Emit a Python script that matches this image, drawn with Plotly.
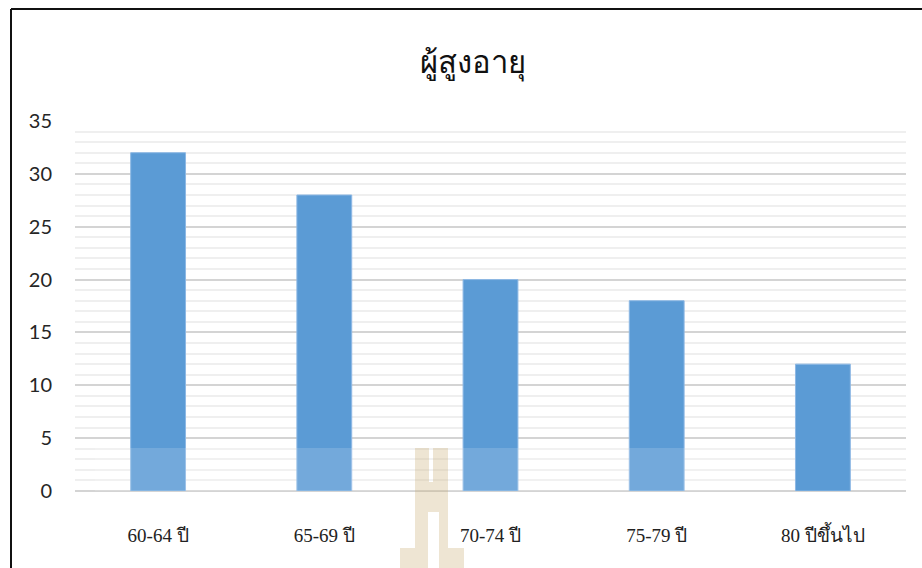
import plotly.graph_objects as go

# Elderly population by age group
categories = ["60-64 ปี", "65-69 ปี", "70-74 ปี", "75-79 ปี", "80 ปีขึ้นไป"]
counts = [32, 28, 20, 18, 12]
y_ticks = [0, 5, 10, 15, 20, 25, 30, 35]

W, H = 922, 568
L, R, T, B = 75, 16, 121, 77
PW, PH = W - L - R, H - T - B


def px(x):
    return (x - L) / PW


def py(y):
    return (H - B - y) / PH


fig = go.Figure()
fig.add_trace(go.Bar(
    x=categories,
    y=counts,
    width=0.33,
    marker=dict(color="#5B9BD5", line=dict(color="#8DB8E4", width=1)),
    hoverinfo="x+y",
))

shapes = []
# chart frame (top and left edges visible)
shapes.append(dict(type="line", xref="paper", yref="paper",
                   x0=px(11), x1=px(W + 20), y0=py(9), y1=py(9),
                   line=dict(color="#111111", width=2), layer="above"))
shapes.append(dict(type="line", xref="paper", yref="paper",
                   x0=px(11), x1=px(11), y0=py(9), y1=py(H + 20),
                   line=dict(color="#111111", width=2), layer="above"))

# pale watermark band across the lower part of the plot
shapes.append(dict(type="rect", xref="paper", yref="paper",
                   x0=px(95), x1=px(740), y0=py(448), y1=py(491),
                   fillcolor="rgba(255,255,255,0.15)", line=dict(width=0),
                   layer="above"))

# watermark emblem
pts = [
    (415, 448), (429, 448), (429, 482), (433, 482), (433, 448), (448, 448),
    (448, 548), (464, 548), (464, 570), (439, 570), (439, 512),
    (428, 512), (428, 570), (400, 570), (400, 548), (415, 548),
]
path = "M " + " L ".join(f"{px(x):.5f},{py(y):.5f}" for x, y in pts) + " Z"
shapes.append(dict(type="path", xref="paper", yref="paper", path=path,
                   fillcolor="rgba(200,168,110,0.30)", line=dict(width=0),
                   layer="above"))

fig.update_layout(
    width=W, height=H,
    margin=dict(l=L, r=R, t=T, b=B),
    paper_bgcolor="white",
    plot_bgcolor="white",
    showlegend=False,
    bargap=0.67,
    shapes=shapes,
    title=dict(
        text="ผู้สูงอายุ",
        x=px(473), xref="paper", xanchor="center",
        y=1 - 62 / H, yref="container", yanchor="middle",
        font=dict(family="Noto Sans, DejaVu Sans, sans-serif", size=31, color="#111111"),
    ),
    xaxis=dict(
        showgrid=False,
        showline=False,
        zeroline=False,
        ticks="",
        tickfont=dict(family="Liberation Serif, Noto Serif, serif", size=19, color="#222222"),
        ticklabelstandoff=31,
    ),
    yaxis=dict(
        range=[0, 35],
        tickvals=y_ticks,
        showgrid=True,
        gridcolor="#D4D4D4",
        gridwidth=1.5,
        zeroline=True,
        zerolinecolor="#D4D4D4",
        zerolinewidth=1.8,
        showline=False,
        ticks="",
        tickfont=dict(family="Lato, Carlito, sans-serif", size=20, color="#262626"),
        ticklabelstandoff=22,
        minor=dict(dtick=1, showgrid=True, gridcolor="#EFEFEF", gridwidth=1.5),
    ),
)

fig.write_html("out.html")
